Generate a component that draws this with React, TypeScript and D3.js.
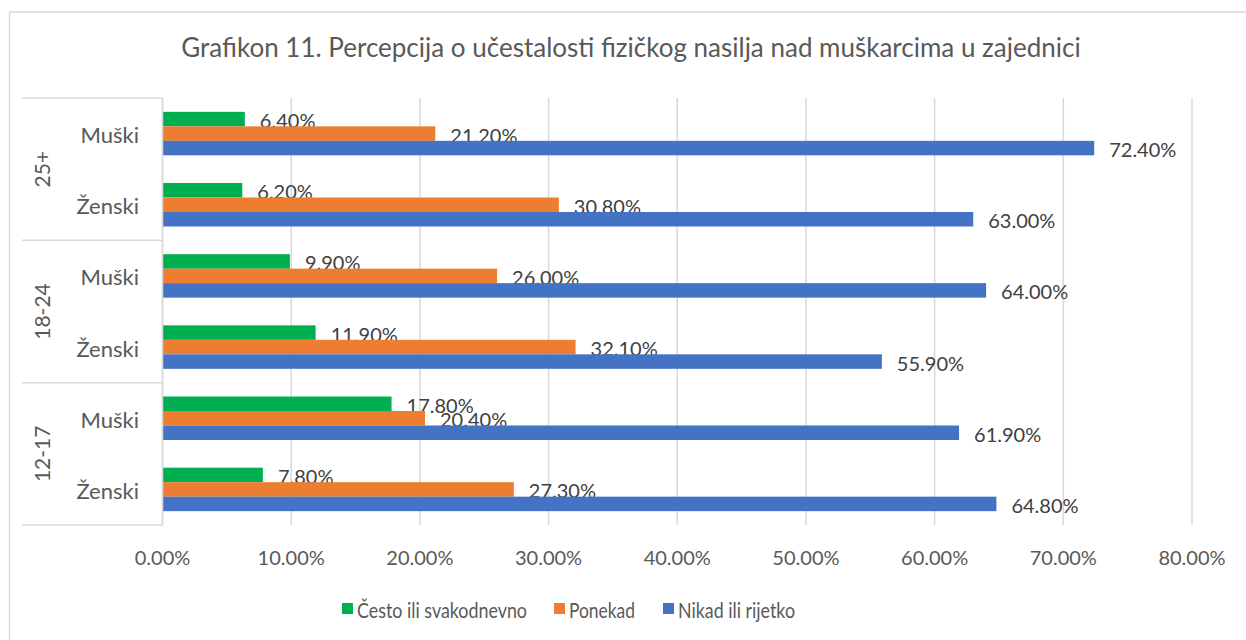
import React from "react";
import * as d3 from "d3";

const groups = ["25+", "18-24", "12-17"];
const genders = ["Muški", "Ženski"];
const seriesNames = ["Često ili svakodnevno", "Ponekad", "Nikad ili rijetko"];
const seriesColors = ["#00b050", "#ed7d31", "#4472c4"];
// values per category in order: 25+ Muški, 25+ Ženski, 18-24 Muški, 18-24 Ženski, 12-17 Muški, 12-17 Ženski
const cestoValues = [6.4, 6.2, 9.9, 11.9, 17.8, 7.8];
const ponekadValues = [21.2, 30.8, 26.0, 32.1, 20.4, 27.3];
const nikadValues = [72.4, 63.0, 64.0, 55.9, 61.9, 64.8];
const xTicks = [0, 10, 20, 30, 40, 50, 60, 70, 80];
const title = "Grafikon 11. Percepcija o učestalosti fizičkog nasilja nad muškarcima u zajednici";

const W = 1246;
const H = 640;
const FONT = "Lato, 'Open Sans', sans-serif";

export default function App() {
  const categories = groups.flatMap((g) => genders.map((s) => `${g}|${s}`));
  const seriesValues = [cestoValues, ponekadValues, nikadValues];

  const x = d3.scaleLinear().domain([0, 80]).range([162.5, 1192]);
  const y = d3.scaleBand().domain(categories).range([98, 525]);
  const clusterH = y.bandwidth() * 0.611;
  const inner = d3
    .scaleBand()
    .domain(seriesNames)
    .range([(y.bandwidth() - clusterH) / 2, (y.bandwidth() + clusterH) / 2]);

  const groupSpan = y.bandwidth() * genders.length;
  const legendX = [342, 554, 663];
  const legendW = [170, 66, 117];

  return (
    <svg
      width={W}
      height={H}
      style={{ position: "absolute", left: 0, top: 0, background: "#fff" }}
      fontFamily={FONT}
    >
      {/* chart frame */}
      <rect x={9.5} y={12} width={1260} height={700} fill="#fff" stroke="#d9d9d9" strokeWidth={1.5} />

      <text x={631} y={57} textAnchor="middle" fontSize={26} fill="#595959">
        {title}
      </text>

      {/* gridlines */}
      {xTicks.map((t) => (
        <line key={t} x1={x(t)} x2={x(t)} y1={98} y2={525} stroke="#d9d9d9" strokeWidth={1.5} />
      ))}

      {/* bars */}
      {categories.map((c, ci) =>
        seriesNames.map((s, si) => {
          const v = seriesValues[si][ci];
          const by = (y(c) as number) + (inner(s) as number);
          return (
            <g key={c + s}>
              <rect
                x={x(0)}
                y={by}
                width={x(v) - x(0)}
                height={inner.bandwidth()}
                fill={seriesColors[si]}
              />
              <text
                x={x(v) + 15}
                y={by + inner.bandwidth() / 2 + 1}
                dominantBaseline="central"
                fontSize={20}
                fill="#404040"
              >
                {v.toFixed(2) + "%"}
              </text>
            </g>
          );
        })
      )}

      {/* category axis */}
      <line x1={162.5} x2={162.5} y1={98} y2={525} stroke="#d9d9d9" strokeWidth={1.5} />
      {groups.map((g) => {
        const top = y(`${g}|${genders[0]}`) as number;
        return (
          <g key={g}>
            <line x1={22} x2={162.5} y1={top} y2={top} stroke="#d9d9d9" strokeWidth={1.5} />
            <text
              transform={`translate(${41},${top + groupSpan / 2}) rotate(-90)`}
              textAnchor="middle"
              dominantBaseline="central"
              fontSize={21}
              fill="#595959"
            >
              {g}
            </text>
          </g>
        );
      })}
      <line x1={22} x2={162.5} y1={525} y2={525} stroke="#d9d9d9" strokeWidth={1.5} />
      {categories.map((c) => (
        <text
          key={c}
          x={139}
          y={(y(c) as number) + y.bandwidth() / 2 + 1}
          textAnchor="end"
          dominantBaseline="central"
          fontSize={22}
          fill="#595959"
        >
          {c.split("|")[1]}
        </text>
      ))}

      {/* x tick labels */}
      {xTicks.map((t) => (
        <text
          key={t}
          x={x(t)}
          y={557}
          textAnchor="middle"
          dominantBaseline="central"
          fontSize={20}
          fill="#595959"
        >
          {t.toFixed(2) + "%"}
        </text>
      ))}

      {/* legend */}
      {seriesNames.map((s, i) => (
        <g key={s}>
          <rect x={legendX[i]} y={603} width={11} height={11} fill={seriesColors[i]} />
          <text
            x={legendX[i] + 15}
            y={609}
            dominantBaseline="central"
            fontSize={21}
            fill="#595959"
            textLength={legendW[i]}
            lengthAdjust="spacingAndGlyphs"
          >
            {s}
          </text>
        </g>
      ))}
    </svg>
  );
}
